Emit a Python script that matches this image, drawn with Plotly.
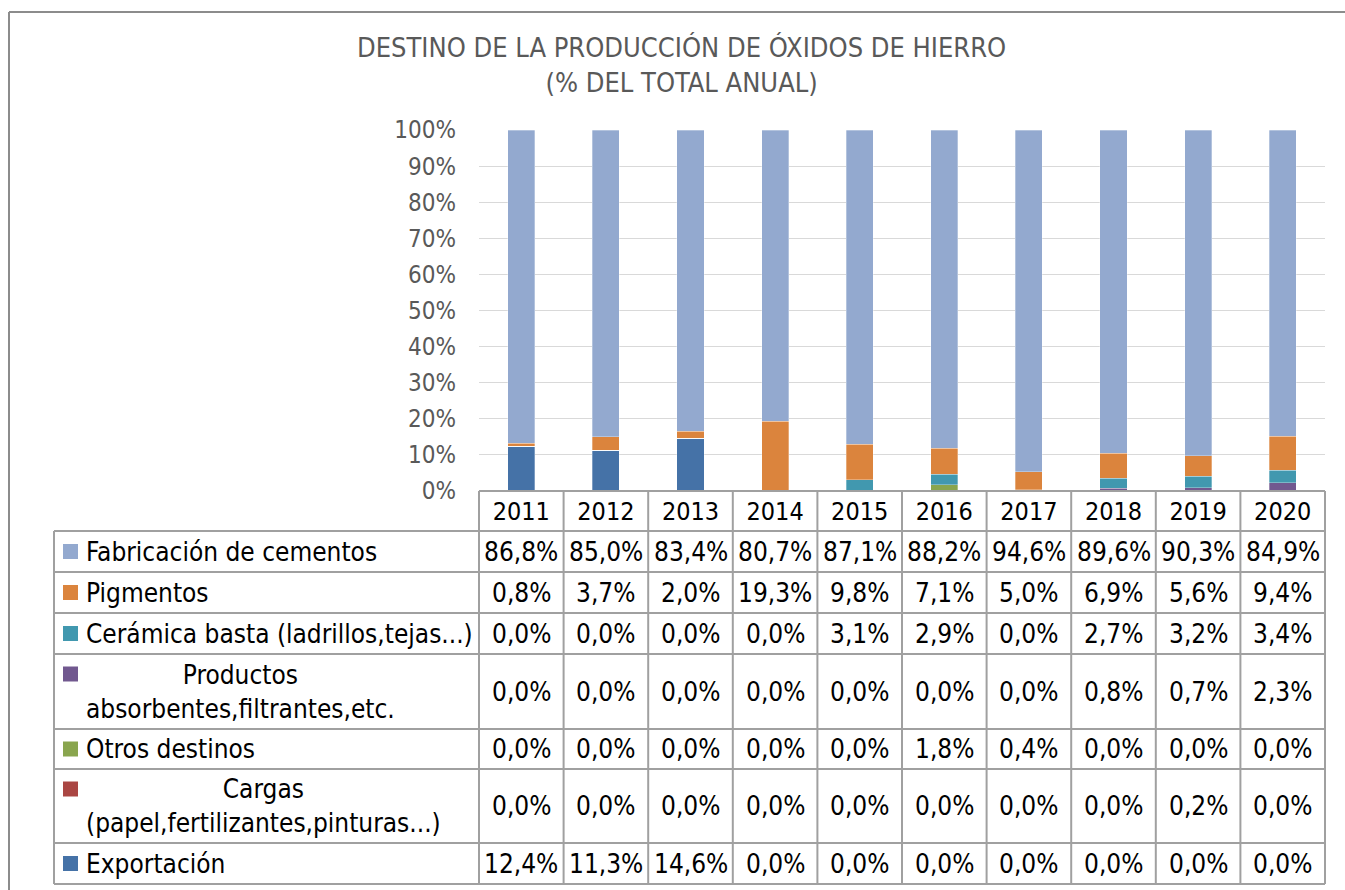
import plotly.graph_objects as go

# datos del gráfico (% del total anual)
anios = ["2011", "2012", "2013", "2014", "2015", "2016", "2017", "2018", "2019", "2020"]

fabricacion = [86.8, 85.0, 83.4, 80.7, 87.1, 88.2, 94.6, 89.6, 90.3, 84.9]
pigmentos = [0.8, 3.7, 2.0, 19.3, 9.8, 7.1, 5.0, 6.9, 5.6, 9.4]
ceramica = [0.0, 0.0, 0.0, 0.0, 3.1, 2.9, 0.0, 2.7, 3.2, 3.4]
productos = [0.0, 0.0, 0.0, 0.0, 0.0, 0.0, 0.0, 0.8, 0.7, 2.3]
otros = [0.0, 0.0, 0.0, 0.0, 0.0, 1.8, 0.4, 0.0, 0.0, 0.0]
cargas = [0.0, 0.0, 0.0, 0.0, 0.0, 0.0, 0.0, 0.0, 0.2, 0.0]
exportacion = [12.4, 11.3, 14.6, 0.0, 0.0, 0.0, 0.0, 0.0, 0.0, 0.0]

# orden de apilado (de abajo hacia arriba)
series = [
    ("Exportación", exportacion, "#4572A7"),
    ("Cargas<br>(papel,fertilizantes,pinturas...)", cargas, "#AA4643"),
    ("Otros destinos", otros, "#89A54E"),
    ("Productos<br>absorbentes,filtrantes,etc.", productos, "#71588F"),
    ("Cerámica basta (ladrillos,tejas...)", ceramica, "#4198AF"),
    ("Pigmentos", pigmentos, "#DB843D"),
    ("Fabricación de cementos", fabricacion, "#93A9CF"),
]

FUENTE = "DejaVu Sans Condensed"
W, H = 1345, 890
L, R, T, B = 479, 1325, 130, 491  # área del gráfico en píxeles


def px_x(p):
    return (p - L) / (R - L)


def px_y(p):
    return (B - p) / (B - T)


fig = go.Figure()
for nombre, valores, color in series:
    fig.add_trace(go.Bar(
        x=anios, y=valores, name=nombre, width=0.32,
        marker=dict(color=color, line=dict(color="rgba(255,255,255,0.6)", width=0.5)),
        hoverinfo="skip",
    ))

shapes = []
annotations = []
gris = "#A0A0A0"

# marco exterior (solo lados superior e izquierdo visibles)
shapes.append(dict(type="line", xref="paper", yref="paper",
                   x0=px_x(9), x1=px_x(W), y0=px_y(12), y1=px_y(12),
                   line=dict(color="#8C8C8C", width=2), layer="below"))
shapes.append(dict(type="line", xref="paper", yref="paper",
                   x0=px_x(9), x1=px_x(9), y0=px_y(12), y1=px_y(H),
                   line=dict(color="#8C8C8C", width=2), layer="below"))

# tabla de datos
filas = [531, 572, 613, 654, 729, 769, 843, 884]
cols = [L + (R - L) * k / len(anios) for k in range(len(anios) + 1)]
shapes.append(dict(type="line", xref="paper", yref="paper", x0=0, x1=1,
                   y0=px_y(B), y1=px_y(B), line=dict(color=gris, width=2)))
for yy in filas:
    shapes.append(dict(type="line", xref="paper", yref="paper", x0=px_x(54), x1=1,
                       y0=px_y(yy), y1=px_y(yy), line=dict(color=gris, width=2)))
for xx in cols:
    shapes.append(dict(type="line", xref="paper", yref="paper", x0=px_x(xx), x1=px_x(xx),
                       y0=px_y(B), y1=px_y(884), line=dict(color=gris, width=2)))
shapes.append(dict(type="line", xref="paper", yref="paper", x0=px_x(54), x1=px_x(54),
                   y0=px_y(531), y1=px_y(884), line=dict(color=gris, width=2)))

# filas en el orden de la tabla (de arriba hacia abajo)
for i, (nombre, valores, color) in enumerate(reversed(series)):
    y0, y1 = filas[i], filas[i + 1]
    yc = (y0 + y1) / 2
    dos_lineas = "<br>" in nombre
    ysq = y0 + 20 if dos_lineas else yc
    shapes.append(dict(type="rect", xref="paper", yref="paper",
                       x0=px_x(63), x1=px_x(78), y0=px_y(ysq - 7.5), y1=px_y(ysq + 7.5),
                       line=dict(width=0), fillcolor=color))
    annotations.append(dict(xref="paper", yref="paper", x=px_x(84), y=px_y(yc),
                            xanchor="left", yanchor="middle", align="center",
                            text=nombre, showarrow=False,
                            font=dict(family=FUENTE, size=26, color="#000000")))
    for j, v in enumerate(valores):
        xc = (cols[j] + cols[j + 1]) / 2
        annotations.append(dict(xref="paper", yref="paper", x=px_x(xc), y=px_y(yc),
                                xanchor="center", yanchor="middle",
                                text=f"{v:.1f}%".replace(".", ","), showarrow=False,
                                font=dict(family=FUENTE, size=26, color="#000000")))

# título
annotations.append(dict(xref="paper", yref="paper", x=px_x(681.5), y=px_y(65),
                        xanchor="center", yanchor="middle", showarrow=False,
                        text="DESTINO DE LA PRODUCCIÓN DE ÓXIDOS DE HIERRO<br>(% DEL TOTAL ANUAL)",
                        font=dict(family=FUENTE, size=27, color="#595959")))

fig.update_layout(
    width=W, height=H,
    margin=dict(l=L, r=W - R, t=T, b=H - B, pad=0),
    paper_bgcolor="white", plot_bgcolor="white",
    barmode="stack", showlegend=False,
    shapes=shapes, annotations=annotations,
    font=dict(family=FUENTE),
    xaxis=dict(type="category", range=[-0.5, 9.5], showgrid=False, showline=False,
               ticks="", tickfont=dict(family=FUENTE, size=25, color="#000000"),
               ticklabelstandoff=3),
    yaxis=dict(range=[0, 100], dtick=10, ticksuffix="%", showgrid=True,
               gridcolor="#D9D9D9", gridwidth=1, zeroline=False, showline=False,
               tickfont=dict(family=FUENTE, size=24, color="#595959"),
               ticklabelstandoff=22),
)

fig.write_html("out.html", config={"displayModeBar": False},
               post_script="document.body.style.margin='0';")
